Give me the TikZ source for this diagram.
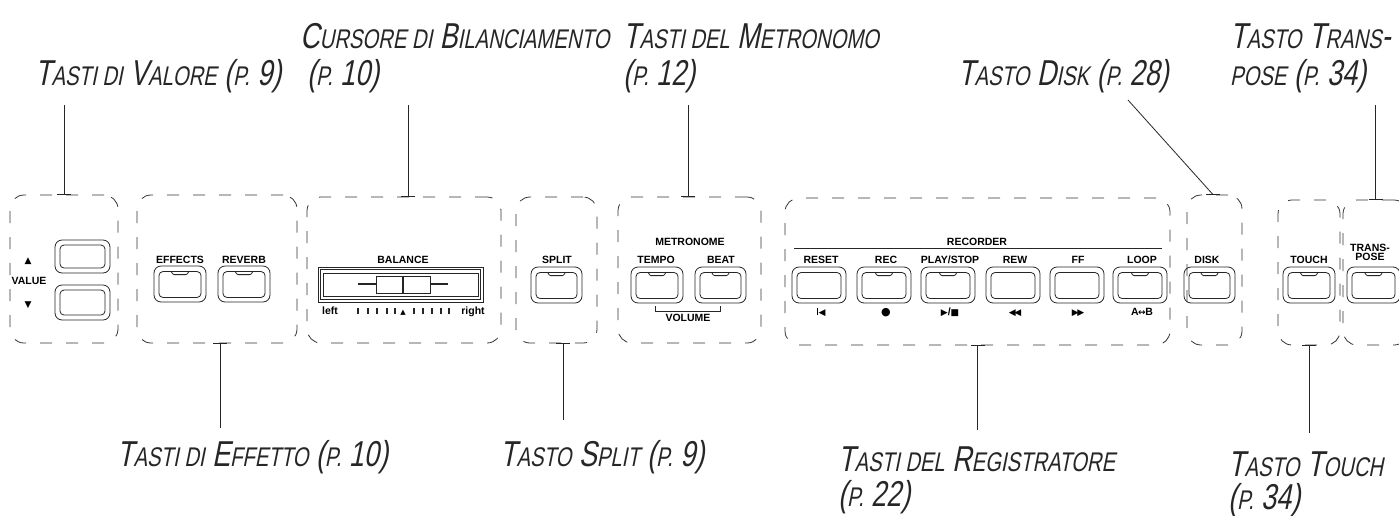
\documentclass[tikz,border=0pt]{standalone}
\usepackage{fontspec}
\setmainfont{Liberation Sans}
\newfontfamily\lblfont[FakeSlant=0.2,FakeStretch=0.75]{Liberation Sans}
\newfontfamily\symfont{DejaVu Sans}
\usetikzlibrary{calc}
\newcommand\sm[1]{{\fontsize{27}{30}\selectfont #1}}
\newcommand\pl{\fontsize{10.5}{11}\selectfont\bfseries}
\tikzset{
  ink/.style={draw=black!85, line width=0.8pt},
  dbox/.style={draw=black!80, line width=0.8pt, dash pattern=on 12pt off 14pt, rounded corners=14pt, inner sep=0},
  btnout/.style={ink, rounded corners=7pt, inner sep=0, minimum width=52pt, minimum height=36pt},
  btnin/.style={ink, rounded corners=4pt, inner sep=0, minimum width=42pt, minimum height=26pt},
  lbl/.style={font=\lblfont\fontsize{36}{37}\selectfont, inner sep=0, anchor=base west, text=black!85},
  ptxt/.style={font=\pl, inner sep=0, anchor=base, text=black},
  conn/.style={draw=black!85, line width=0.8pt},
  tick/.style={draw=black!85, line width=0.8pt}
}
\newcommand\keyb[4]{%
  \node[btnout, minimum width=#4pt] (#1) at (#2,#3) {};
  \node[btnin, minimum width=#4pt-10pt] (#1-in) at ($(#1)+(0,0.5)$) {};}
\newcommand\led[1]{\draw[ink, rounded corners=1pt] ($(#1-in.north)+(-9,0)$) -- ++(2,3.5) -- ++(14,0) -- ++(2,-3.5);}
\newcommand\sym[1]{{\symfont\fontsize{9}{9}\selectfont #1}}
\begin{document}
\begin{tikzpicture}[x=1pt,y=-1pt]
\useasboundingbox (0,0) rectangle (1399,515);

% dashed groups
\node[dbox, minimum width=108pt, minimum height=148pt] (valbox) at (64,269) {};
\node[dbox, minimum width=160pt, minimum height=148pt] (effbox) at (217,269) {};
\node[dbox, minimum width=194pt, minimum height=146pt] (balbox) at (404,270) {};
\node[dbox, minimum width=81pt, minimum height=146pt] (splitbox) at (556.5,270) {};
\node[dbox, minimum width=143pt, minimum height=146pt] (metbox) at (689.5,270) {};
\node[dbox, minimum width=385pt, minimum height=147pt] (recbox) at (977.5,271.5) {};
\node[dbox, minimum width=55pt, minimum height=150pt] (diskbox) at (1214.5,270) {};
\node[dbox, minimum width=62pt, minimum height=145pt] (touchbox) at (1309,272.5) {};
\node[dbox, minimum width=65pt, minimum height=145pt] (trbox) at (1375.5,272.5) {};

% value
\node[btnout, minimum width=55pt, minimum height=33pt] (vup) at (82.5,256.5) {};
\node[btnin, minimum width=45pt, minimum height=23pt] at (vup) {};
\node[btnout, minimum width=55pt, minimum height=35pt] (vdn) at (82.5,302.5) {};
\node[btnin, minimum width=45pt, minimum height=25pt] at (vdn) {};
\node[ptxt] (vtri) at (28,263) {\sym{▲}};
\node[ptxt] (vlab) at (29,284) {VALUE};
\node[ptxt] (vtri2) at (28,307) {\sym{▼}};

% effects
\keyb{eff}{180}{284}{52}\led{eff}
\keyb{rev}{244}{284}{52}\led{rev}
\node[ptxt] at (180,263) {EFFECTS};
\node[ptxt] at (244,263) {REVERB};

% balance
\node[ptxt] at (403,263) {BALANCE};
\draw[ink] (318,267) rectangle (483,302);
\draw[ink] (320.5,269.5) rectangle (480.5,299.5);
\draw[ink] (323,273) rectangle (478,296);
\draw[black!85, line width=2.6pt] (358,284) -- (448,284);
\draw[ink, fill=white] (376,276) rectangle (430,293);
\draw[black!85, line width=2pt] (403,276) -- (403,293);
\node[ptxt] at (330,314) {left};
\node[ptxt] at (473,314) {right};
\foreach \t in {358,368,377,387,395,414,423,432,441,449}
  \draw[black!85, line width=1.6pt] (\t,308) -- (\t,314);
\node[ptxt] at (403,314) {{\symfont\fontsize{7}{7}\selectfont▲}};

% split
\keyb{split}{556.5}{285}{51}\led{split}
\node[ptxt] at (557,263) {SPLIT};

% metronome
\node[ptxt] at (690,245) {METRONOME};
\keyb{tempo}{657}{285}{52}\led{tempo}
\keyb{beat}{720.5}{285}{51}\led{beat}
\node[ptxt] at (656,263) {TEMPO};
\node[ptxt] at (721,263) {BEAT};
\draw[ink] (655,306) -- (655,311) -- (720,311) -- (720,306);
\node[ptxt] at (688,321.5) {VOLUME};

% recorder
\node[ptxt] at (977,245) {RECORDER};
\draw[ink] (794,248.5) -- (1162,248.5);
\keyb{reset}{819}{285}{54}
\keyb{rec}{884}{285}{54}\led{rec}
\keyb{play}{948}{285}{54}\led{play}
\keyb{rew}{1013}{285}{54}
\keyb{ff}{1077}{285}{54}
\keyb{loop}{1140}{285}{54}\led{loop}
\node[ptxt] at (821,263) {RESET};
\node[ptxt] at (886,263) {REC};
\node[ptxt] at (950,263) {PLAY/STOP};
\node[ptxt] at (1015,263) {REW};
\node[ptxt] at (1078,263) {FF};
\node[ptxt] at (1142,263) {LOOP};
\node[ptxt] at (821,315) {\rule{1.8pt}{7.5pt}\kern0.2pt\sym{◀}};
\node[ptxt] at (886,315) {\sym{\fontsize{11}{11}\selectfont●}};
\node[ptxt] at (950,315) {\sym{▶}/\sym{■}};
\node[ptxt] at (1015,315) {\sym{◀\kern-1.5pt◀}};
\node[ptxt] at (1078,315) {\sym{▶\kern-1.5pt▶}};
\node[ptxt] at (1142,315) {A\sym{\kern-0.5pt↔\kern-0.5pt}B};

% disk
\keyb{disk}{1209.5}{285}{51}\led{disk}
\node[ptxt] at (1207,263) {DISK};

% touch, transpose
\keyb{touch}{1309}{285}{52}\led{touch}
\node[ptxt] at (1309,263) {TOUCH};
\keyb{trans}{1373.5}{285}{53}\led{trans}
\node[ptxt] at (1370,251.5) {TRANS-};
\node[ptxt] at (1370,260) {POSE};

% labels
\node[lbl] (lval) at (35,85) {T\sm{ASTI DI} V\sm{ALORE} (\sm{P.} 9)};
\node[lbl] (lcur) at (300,48) {C\sm{URSORE DI} B\sm{ILANCIAMENTO}};
\node[lbl] (lcur2) at (307,85) {(\sm{P.} 10)};
\node[lbl] (lmet) at (623,48) {T\sm{ASTI DEL} M\sm{ETRONOMO}};
\node[lbl] (lmet2) at (623,85) {(\sm{P.} 12)};
\node[lbl] (ldisk) at (958,85) {T\sm{ASTO} D\sm{ISK} (\sm{P.} 28)};
\node[lbl] (ltr) at (1230,48) {T\sm{ASTO} T\sm{RANS}-};
\node[lbl] (ltr2) at (1230,85) {\sm{POSE} (\sm{P.} 34)};
\node[lbl] (leff) at (117,466) {T\sm{ASTI DI} E\sm{FFETTO} (\sm{P.} 10)};
\node[lbl] (lsplit) at (500,466) {T\sm{ASTO} S\sm{PLIT} (\sm{P.} 9)};
\node[lbl] (lreg) at (838,471) {T\sm{ASTI DEL} R\sm{EGISTRATORE}};
\node[lbl] (lreg2) at (838,506) {(\sm{P.} 22)};
\node[lbl] (ltouch) at (1228,476) {T\sm{ASTO} T\sm{OUCH}};
\node[lbl] (ltouch2) at (1228,509) {(\sm{P.} 34)};

% connector anchor points
\coordinate (diskend) at (1128,100);
\coordinate (cval) at (valbox.north);
\coordinate (cbal) at ([xshift=4pt]balbox.north);
\coordinate (cmet) at ([xshift=-1.5pt]metbox.north);
\coordinate (cdisk) at ([xshift=-1.5pt]diskbox.north);
\coordinate (ctr) at (trbox.north);
\coordinate (ceff) at ([xshift=3pt]effbox.south);
\coordinate (csplit) at ([xshift=6.5pt]splitbox.south);
\coordinate (crec) at (recbox.south);
\coordinate (ctouch) at (touchbox.south);

\draw[conn] (cval) -- ++(0,-90);
\draw[conn] (cbal) -- ++(0,-92);
\draw[conn] (cmet) -- ++(0,-92);
\draw[conn] (cdisk) -- (diskend);
\draw[conn] (ctr) -- ++(0,-95);
\draw[conn] (ceff) -- ++(0,85);
\draw[conn] (csplit) -- ++(0,77);
\draw[conn] (crec) -- ++(0,85);
\draw[conn] (ctouch) -- ++(0,88);
\foreach \p in {cval,cbal,cmet,cdisk,ctr,ceff,csplit,crec,ctouch}
  \draw[tick] ([xshift=-7pt]\p) -- ([xshift=7pt]\p);
\end{tikzpicture}
\end{document}
